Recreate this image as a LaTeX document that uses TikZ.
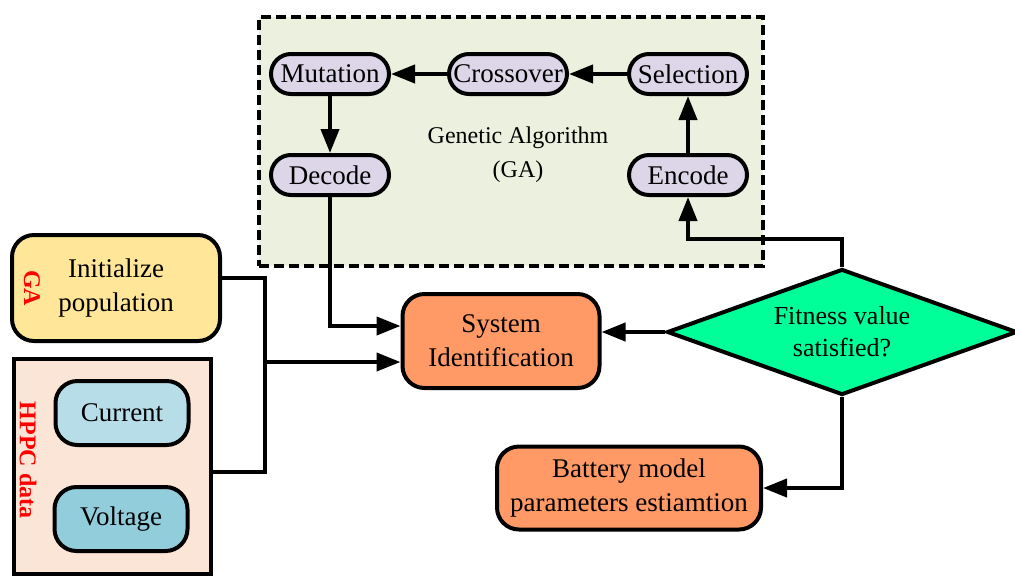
\documentclass[tikz,border=0pt]{standalone}
\usepackage{fontspec}
\setmainfont{Liberation Serif}
\usepackage{tikz}
\usetikzlibrary{
  shapes.geometric, arrows.meta, positioning, calc
}
\definecolor{gagreen}{HTML}{EBF1DE}
\definecolor{galilac}{HTML}{DCD6E8}
\definecolor{initgold}{HTML}{FFE699}
\definecolor{hppcpeach}{HTML}{FBE5D6}
\definecolor{curblue}{HTML}{B7DEE8}
\definecolor{voltblue}{HTML}{92CDDC}
\definecolor{sysorange}{HTML}{FF9966}
\definecolor{fitgreen}{HTML}{00FF99}

\begin{document}
\begin{tikzpicture}[
  x=0.5pt, y=-0.5pt,
  pill/.style={
    rectangle, rounded corners=10pt, draw, line width=2pt, fill=galilac,
    minimum width=59pt, minimum height=20pt, inner sep=0pt,
    font=\fontsize{13.5}{16}\selectfont,
  },
  block/.style={
    rectangle, rounded corners=11pt, draw, line width=2pt, align=center,
    inner sep=0pt, font=\fontsize{13.5}{17}\selectfont,
  },
  gaframe/.style={
    draw, line width=2pt, dash pattern=on 5pt off 2.5pt, fill=gagreen,
    inner sep=0pt,
  },
  tag/.style={text=red, font=\fontsize{12}{14}\selectfont\bfseries, rotate=-90},
  decision/.style={
    diamond, draw, line width=2pt, fill=fitgreen, aspect=2.7, inner sep=0pt,
    align=center, font=\fontsize{13}{16}\selectfont,
  },
  arrow/.style={line width=2pt, -{Triangle[length=12pt,width=9pt]}},
  link/.style={line width=2pt},
]
  \useasboundingbox (0,0) rectangle (1015,579);

  % GA frame
  \node[gaframe, minimum width=252pt, minimum height=124.5pt] (gabox) at (511,141.5) {};
  \node[font=\fontsize{12}{17}\selectfont, align=center] (galabel) at (518,155) {Genetic Algorithm\\(GA)};

  % GA steps
  \node[pill] (mut) at (330,74) {Mutation};
  \node[pill] (cross) at (508,74) {Crossover};
  \node[pill] (sel) at (688,74) {Selection};
  \node[pill] (dec) at (330,175) {Decode};
  \node[pill] (enc) at (688,175) {Encode};

  % Inputs
  \node[block, fill=initgold, minimum width=104pt, minimum height=53pt] (init) at (116,288) {Initialize\\population};
  \node[tag] (galab) at (32,288) {GA};
  \node[draw, line width=2pt, fill=hppcpeach, minimum width=98.5pt, minimum height=107.5pt, inner sep=0pt] (hppc) at (112.5,466.5) {};
  \node[tag] (hppclab) at (28,460) {HPPC data};
  \node[block, fill=curblue, minimum width=66.5pt, minimum height=32pt] (cur) at (122,413) {Current};
  \node[block, fill=voltblue, minimum width=66.5pt, minimum height=32pt] (volt) at (121,519) {Voltage};

  % Identification and decision
  \node[block, fill=sysorange, minimum width=98.5pt, minimum height=47pt] (sysid) at (501,341) {System\\Identification};
  \node[decision, minimum width=175pt, minimum height=63pt] (fit) at (842,332) {Fitness value\\satisfied?};
  \node[block, fill=sysorange, minimum width=132pt, minimum height=41.5pt] (batt) at (629,488) {Battery model\\parameters estiamtion};

  % GA loop
  \draw[arrow] (sel) -- (cross);
  \draw[arrow] (cross) -- (mut);
  \draw[arrow] (mut) -- (dec);
  \draw[arrow] (enc) -- (sel);

  % Connectors
  \coordinate (jn) at (265,362);
  \draw[link] ([yshift=5pt]init.east) -| (jn) |- ([yshift=-2.75pt]hppc.east);
  \draw[arrow] (jn) -- (jn -| sysid.west);
  \draw[arrow] (dec.south) |- ([yshift=7.5pt]sysid.west);
  \draw[arrow] (fit.west) -- (fit.west -| sysid.east);
  \draw[arrow] (fit.north) -- ++(0,-28) -| (enc.south);
  \draw[arrow] (fit.south) |- (batt.east);

\end{tikzpicture}
\end{document}
